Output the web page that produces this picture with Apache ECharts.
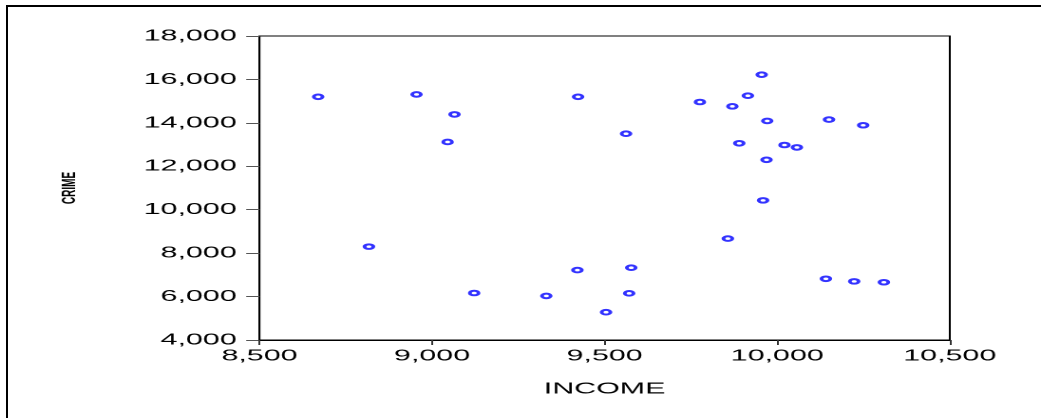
<!DOCTYPE html>
<html lang="en">
  <head>
    <meta charset="UTF-8" />
    <title>CRIME vs INCOME</title>
    <style>
      html, body { margin: 0; padding: 0; background: #fff; overflow: hidden; }
      .frame { position: absolute; left: 6px; top: 5px; right: 0; bottom: 0; border-left: 2px solid #000; border-top: 2px solid #000; z-index: 2; pointer-events: none; }
      /* chart drawn narrow, then stretched sideways like the original export */
      #chart { position: absolute; left: 0; top: 0; width: 548px; height: 418px; transform: scaleX(1.8996); transform-origin: 0 0; z-index: 1; }
    </style>
  </head>
  <body>
    <div id="chart"></div>
    <div class="frame"></div>
    <script src="https://cdn.jsdelivr.net/npm/echarts@6/dist/echarts.min.js"></script>
    <script>
      var income = [8670, 8955, 9065, 9045, 9423, 9955, 9915, 9776, 9870, 9971,
                    10150, 10249, 9562, 9890, 10021, 10057, 9969, 8817, 9122, 9331,
                    9421, 9959, 9857, 9577, 9571, 9504, 10141, 10223, 10309]
      var crime = [15200, 15310, 14390, 13120, 15200, 16220, 15250, 14960, 14760, 14090,
                   14150, 13890, 13500, 13060, 12980, 12870, 12300, 8300, 6165, 6030,
                   7220, 10430, 8670, 7330, 6150, 5280, 6820, 6700, 6660]
      var xTicks = [8500, 9000, 9500, 10000, 10500]
      var yTicks = [4000, 6000, 8000, 10000, 12000, 14000, 16000, 18000]

      var points = []
      for (var i = 0; i < income.length; i++) {
        points.push([income[i], crime[i]])
      }
      function fmt(v) { return v.toLocaleString('en-US') }

      var myChart = echarts.init(document.getElementById('chart'), null, { devicePixelRatio: 2 })
      var labelFont = { fontFamily: 'Liberation Sans, Arial, sans-serif', fontSize: 16, color: '#000' }

      myChart.setOption({
        animation: false,
        grid: { left: 136.6, right: 48, top: 36, bottom: 78, show: true, borderColor: '#000', borderWidth: 1 },
        xAxis: {
          type: 'value',
          min: xTicks[0], max: xTicks[xTicks.length - 1], interval: 500,
          name: 'INCOME', nameLocation: 'middle', nameGap: 41,
          nameTextStyle: labelFont,
          axisLine: { lineStyle: { color: '#000', width: 1 } },
          axisTick: { length: 5, lineStyle: { color: '#333' } },
          axisLabel: Object.assign({ margin: 8, formatter: fmt }, labelFont),
          splitLine: { show: false }
        },
        yAxis: {
          type: 'value',
          min: yTicks[0], max: yTicks[yTicks.length - 1], interval: 2000,
          name: 'CRIME', nameLocation: 'middle', nameGap: 95, nameRotate: 90,
          nameTextStyle: { fontFamily: 'Liberation Sans, Arial, sans-serif', fontSize: 10, fontWeight: 'bold', color: '#000' },
          axisLine: { show: true, lineStyle: { color: '#000', width: 1 } },
          axisTick: { length: 7, lineStyle: { color: '#555' } },
          axisLabel: Object.assign({ margin: 12, formatter: fmt }, labelFont),
          splitLine: { show: false }
        },
        series: [{
          type: 'scatter',
          data: points,
          symbol: 'emptyCircle',
          symbolSize: 4.6,
          itemStyle: { color: '#0000ff', borderColor: '#0000ff', borderWidth: 0.75 }
        }]
      })
    </script>
  </body>
</html>
